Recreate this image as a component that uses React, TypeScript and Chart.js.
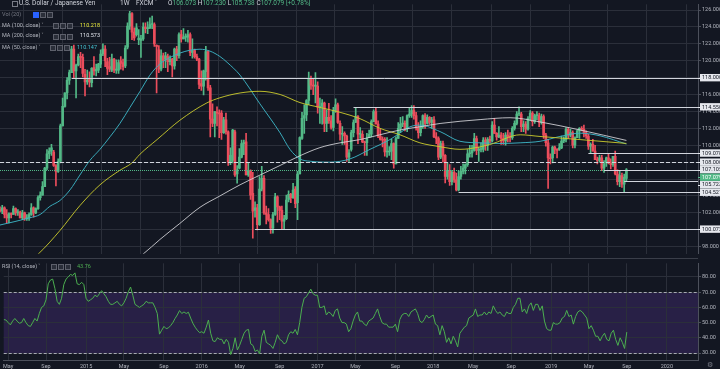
import React, { useEffect, useRef } from 'react';
import { Chart, registerables } from 'chart.js';
Chart.register(...registerables);

// week index 0 = week of 5 Jan 2015; first candle = week of 21 Apr 2014
const FIRST_WEEK = -37;

// [open, high, low, close]
const candles2014: number[][] = [
  [102.4, 102.7, 102.1, 102.2], [102.2, 102.9, 101.9, 102.6], [102.6, 102.7, 101.4, 101.8], [101.8, 102.4, 100.8, 101.4],
  [101.4, 102.0, 100.8, 101.9], [101.9, 102.0, 101.4, 101.8], [101.8, 102.8, 101.8, 102.5], [102.5, 102.6, 101.7, 102.0],
  [102.0, 102.4, 101.7, 102.1], [102.1, 102.2, 101.4, 101.4], [101.4, 102.3, 101.2, 102.0], [102.0, 102.1, 101.1, 101.3],
  [101.3, 101.8, 101.1, 101.4], [101.4, 102.0, 101.1, 101.8], [101.8, 103.1, 101.7, 102.6], [102.6, 102.7, 101.5, 102.0],
  [102.0, 102.6, 101.9, 102.5], [102.5, 104.0, 102.4, 103.8], [103.8, 104.5, 103.5, 104.1], [104.1, 105.7, 104.1, 105.1],
  [105.1, 107.4, 105.1, 107.3], [107.3, 109.5, 107.1, 109.0], [109.0, 109.7, 108.4, 109.3], [109.3, 110.1, 108.8, 109.7],
  [109.2, 109.4, 107.5, 107.6], [107.6, 107.7, 105.2, 106.9], [106.9, 108.4, 106.8, 108.1], [108.1, 112.5, 107.9, 112.3],
  [112.3, 115.6, 112.3, 114.6], [114.6, 116.2, 114.5, 116.2], [116.2, 118.0, 115.5, 117.7], [117.7, 118.9, 117.2, 118.6],
  [118.6, 121.7, 118.6, 121.4], [121.4, 121.85, 117.9, 118.8], [118.8, 119.6, 115.6, 119.5], [119.5, 120.8, 119.4, 120.5],
  [120.5, 121.0, 119.2, 120.4],
];
const candles2015: number[][] = [
  [120.4, 120.8, 118.1, 118.5], [118.4, 119.0, 115.85, 117.5], [117.5, 118.9, 117.2, 117.7], [117.9, 118.7, 116.9, 117.5],
  [117.4, 119.2, 116.9, 119.1], [119.2, 120.5, 118.3, 118.8], [118.8, 119.6, 118.2, 119.0], [118.9, 119.7, 118.6, 119.6],
  [119.6, 121.3, 119.2, 120.8], [120.8, 122.0, 120.6, 121.4], [121.4, 121.8, 119.3, 120.0], [119.9, 120.3, 118.35, 119.1],
  [119.3, 120.4, 118.7, 119.0], [118.9, 120.8, 118.7, 120.2], [120.2, 120.3, 118.6, 118.9], [118.9, 120.1, 118.5, 119.0],
  [118.9, 120.1, 118.5, 119.8], [120.0, 120.5, 119.0, 119.7], [119.8, 120.2, 118.9, 119.3], [119.4, 121.8, 119.2, 121.5],
  [121.6, 124.5, 121.4, 124.1], [124.1, 125.85, 123.7, 125.6], [125.6, 125.7, 122.5, 123.4], [123.4, 123.9, 122.4, 122.7],
  [123.1, 124.4, 122.9, 123.9], [122.5, 123.7, 121.9, 122.7], [122.4, 123.0, 120.4, 122.6], [122.6, 124.5, 122.4, 124.0],
  [124.0, 124.5, 123.3, 123.8], [123.8, 124.6, 123.2, 123.9], [123.9, 125.1, 123.8, 124.3], [124.3, 125.3, 123.8, 124.4],
  [124.3, 124.5, 121.7, 122.0], [121.8, 121.9, 116.2, 121.7], [121.3, 121.8, 118.6, 119.0], [119.0, 121.3, 118.8, 120.6],
  [120.6, 120.9, 119.2, 120.0], [120.2, 121.0, 119.2, 120.6], [120.5, 120.8, 118.7, 119.9], [119.9, 120.6, 119.5, 120.2],
  [120.2, 120.3, 118.1, 119.4], [119.4, 121.5, 119.0, 121.4], [121.4, 121.7, 120.0, 120.6], [120.6, 123.3, 120.3, 123.1],
  [123.1, 123.6, 122.2, 122.6], [122.6, 123.8, 122.6, 122.8], [122.8, 123.2, 122.3, 122.9], [122.8, 123.6, 122.2, 123.1],
  [123.1, 123.3, 120.6, 121.0], [121.0, 122.6, 120.3, 121.2], [121.2, 121.4, 120.3, 120.5], [120.5, 120.8, 120.0, 120.2],
];
const candles2016: number[][] = [
  [120.2, 120.3, 116.7, 117.2], [117.3, 118.8, 116.5, 117.0], [117.0, 118.9, 115.97, 118.8], [118.7, 121.7, 117.7, 121.1],
  [121.1, 121.2, 116.5, 116.8], [116.8, 117.1, 110.99, 113.1], [113.1, 114.9, 112.2, 112.6], [112.6, 114.0, 110.98, 114.0],
  [113.9, 114.55, 112.3, 113.8], [113.8, 114.2, 110.9, 113.7], [113.8, 114.1, 110.7, 111.5], [111.5, 113.3, 111.4, 113.0],
  [113.0, 113.8, 111.3, 111.6], [111.6, 111.7, 107.6, 108.0], [108.0, 109.7, 107.7, 108.8], [108.2, 111.9, 107.9, 111.8],
  [111.6, 111.8, 106.3, 106.5], [106.6, 107.6, 105.5, 107.1], [107.3, 109.6, 107.2, 108.6], [108.6, 110.6, 108.5, 110.2],
  [110.2, 110.6, 108.9, 110.3], [110.4, 111.4, 106.5, 106.5], [106.5, 107.9, 106.3, 107.0], [107.0, 107.1, 103.6, 104.1],
  [104.3, 106.8, 99.0, 102.2], [102.3, 103.3, 101.5, 102.6], [102.6, 103.0, 99.98, 100.6], [100.6, 106.3, 100.5, 104.8],
  [104.8, 107.5, 104.6, 106.1], [106.1, 106.4, 101.8, 102.0], [102.0, 102.8, 100.7, 101.8], [101.8, 102.5, 101.0, 101.2],
  [101.2, 101.3, 99.55, 100.2], [100.2, 102.05, 99.6, 101.8], [101.8, 104.3, 101.7, 103.9], [103.9, 104.0, 100.9, 102.7],
  [102.7, 102.8, 101.2, 102.3], [102.3, 102.8, 100.1, 101.0], [101.0, 101.7, 100.1, 101.3], [101.3, 104.1, 101.2, 103.5],
  [103.6, 104.6, 103.3, 104.2], [104.2, 104.3, 103.2, 103.8], [103.8, 105.5, 103.7, 104.7], [104.8, 105.1, 102.6, 103.1],
  [103.2, 106.9, 101.2, 106.6], [106.6, 111.0, 106.6, 110.9], [110.8, 113.9, 110.7, 113.2], [113.2, 114.8, 111.4, 113.5],
  [113.6, 115.4, 112.9, 115.3], [115.3, 118.66, 114.8, 117.9], [117.9, 118.2, 116.6, 117.1], [117.1, 117.8, 116.0, 117.0],
];
const candles2017: number[][] = [
  [117.0, 118.6, 115.0, 117.0], [117.0, 117.5, 113.8, 114.5], [114.5, 115.6, 112.6, 114.6], [114.6, 115.4, 112.5, 115.0],
  [115.0, 115.1, 111.6, 112.6], [112.6, 114.2, 111.6, 113.3], [113.3, 114.95, 112.6, 112.9], [112.9, 113.5, 111.9, 112.1],
  [112.1, 114.5, 111.7, 114.1], [114.1, 115.5, 113.9, 114.8], [114.8, 115.0, 112.6, 112.7], [112.6, 112.9, 110.6, 111.3],
  [111.3, 112.2, 110.1, 111.4], [111.4, 111.6, 110.1, 111.1], [111.1, 111.2, 108.1, 108.6], [108.6, 109.5, 108.1, 109.1],
  [109.5, 111.8, 109.3, 111.5], [111.5, 113.0, 111.0, 112.7], [112.7, 114.4, 112.7, 113.4], [113.4, 113.5, 110.2, 111.3],
  [111.3, 112.1, 110.8, 111.4], [111.3, 111.7, 110.3, 110.4], [110.4, 110.5, 108.8, 110.3], [110.3, 111.4, 108.8, 110.8],
  [110.9, 111.8, 110.9, 111.3], [111.3, 113.0, 111.0, 112.8], [112.8, 114.2, 112.8, 114.0], [114.0, 114.5, 112.8, 112.5],
  [112.5, 112.9, 110.9, 111.1], [111.1, 111.9, 110.6, 110.7], [110.7, 111.0, 109.8, 110.6], [110.7, 110.9, 108.7, 109.2],
  [109.2, 110.9, 108.6, 109.3], [109.2, 109.85, 108.8, 109.3], [109.3, 110.7, 108.3, 110.2], [110.2, 110.3, 107.3, 107.8],
  [107.8, 111.0, 107.8, 110.8], [110.8, 112.7, 110.8, 112.0], [112.0, 113.3, 111.5, 112.5], [112.5, 113.4, 112.2, 112.6],
  [112.6, 112.9, 111.7, 112.0], [112.0, 113.6, 111.6, 113.5], [113.5, 114.4, 113.3, 113.7], [113.7, 114.7, 113.3, 114.1],
  [114.1, 114.7, 113.1, 113.5], [113.5, 113.9, 111.8, 112.1], [112.1, 112.7, 110.85, 111.5], [111.5, 112.9, 111.1, 112.2],
  [112.2, 113.6, 112.0, 113.5], [113.5, 113.75, 112.0, 112.6], [112.6, 113.6, 112.5, 113.3], [113.3, 113.4, 112.5, 112.7],
];
const candles2018: number[][] = [
  [112.7, 113.3, 112.0, 113.0], [113.0, 113.4, 110.9, 111.0], [111.0, 111.5, 110.2, 110.8], [110.8, 111.0, 108.3, 108.6],
  [108.6, 110.5, 108.4, 110.2], [110.2, 110.5, 108.0, 108.8], [108.8, 108.9, 105.55, 106.3], [106.3, 107.9, 106.0, 106.9],
  [106.9, 107.7, 105.25, 105.7], [105.7, 107.0, 105.3, 106.8], [106.8, 107.3, 105.6, 105.9], [105.9, 106.7, 104.6, 104.7],
  [104.7, 107.0, 104.6, 106.3], [106.3, 107.5, 106.0, 106.9], [106.9, 107.8, 106.6, 107.3], [107.3, 107.8, 106.6, 107.7],
  [107.7, 109.5, 107.5, 109.0], [109.0, 110.0, 108.6, 109.1], [109.1, 110.0, 108.6, 109.4], [109.4, 111.4, 109.3, 110.8],
  [110.8, 111.1, 108.9, 109.4], [109.4, 109.8, 108.1, 109.5], [109.5, 110.3, 109.2, 109.6], [109.5, 110.9, 109.2, 110.6],
  [110.6, 110.9, 109.4, 110.0], [110.0, 110.9, 109.4, 110.7], [110.7, 111.1, 110.3, 110.5], [110.5, 112.8, 110.4, 112.4],
  [112.4, 113.2, 111.4, 111.4], [111.4, 111.5, 110.6, 111.0], [111.0, 112.2, 110.9, 111.2], [111.2, 111.5, 110.1, 110.8],
  [110.8, 111.4, 110.1, 110.5], [110.5, 111.5, 110.0, 111.2], [111.2, 111.8, 110.4, 111.0], [111.0, 111.5, 110.4, 110.9],
  [110.9, 112.2, 110.7, 112.0], [112.0, 112.9, 111.8, 112.6], [112.6, 114.0, 112.4, 113.7], [113.7, 114.55, 113.5, 113.8],
  [113.7, 113.9, 111.6, 112.2], [112.2, 112.9, 111.6, 112.5], [112.5, 112.8, 111.4, 111.9], [111.9, 113.4, 111.8, 113.2],
  [113.2, 114.1, 112.9, 113.8], [113.8, 114.0, 112.3, 112.8], [112.8, 113.7, 112.6, 113.5], [113.5, 114.0, 113.0, 113.6],
  [113.5, 113.8, 112.2, 112.7], [112.7, 113.7, 112.5, 113.4], [113.4, 113.6, 110.8, 111.2], [111.2, 111.4, 109.9, 110.3],
];
const candles2019: number[][] = [
  [110.3, 110.7, 104.9, 108.5], [108.5, 109.0, 107.8, 108.4], [108.5, 109.9, 107.9, 109.8], [109.8, 109.9, 109.0, 109.5],
  [109.5, 109.6, 108.5, 109.4], [109.5, 110.2, 109.4, 109.7], [109.7, 111.1, 109.6, 110.5], [110.5, 111.0, 110.3, 110.7],
  [110.7, 112.1, 110.4, 111.9], [111.9, 112.1, 110.8, 111.2], [111.2, 111.9, 111.0, 111.5], [111.5, 111.7, 109.7, 110.0],
  [110.0, 111.0, 109.7, 110.9], [110.9, 111.8, 110.9, 111.7], [111.7, 112.1, 110.8, 112.0], [112.0, 112.2, 111.7, 111.9],
  [111.9, 112.4, 111.0, 111.5], [111.5, 111.7, 110.8, 111.1], [111.1, 111.3, 109.5, 109.9], [109.9, 110.3, 109.0, 110.1],
  [110.1, 110.7, 109.3, 109.3], [109.3, 110.0, 108.3, 108.3], [108.3, 108.6, 107.8, 108.2], [108.2, 108.8, 108.0, 108.5],
  [108.5, 108.8, 107.0, 107.3], [107.3, 108.2, 106.8, 107.8], [107.9, 108.6, 107.5, 108.5], [108.5, 109.0, 107.8, 107.9],
  [107.9, 108.4, 107.2, 107.7], [107.7, 108.7, 107.5, 108.7], [108.7, 109.3, 106.5, 106.6], [106.6, 107.1, 105.3, 105.7],
  [105.7, 106.98, 105.1, 106.4], [106.4, 106.7, 105.0, 105.4], [105.4, 106.6, 104.45, 106.2], [106.073, 107.23, 105.738, 107.079],
];

const rsi2014 = [52, 51.7, 50, 48.5, 51, 52.7, 51, 49.6, 50, 52.7, 50, 48, 47.5, 50, 52.7, 51, 56, 60, 61, 65, 75.5, 78, 78.6, 72.4, 64, 62, 66, 75, 78.6, 80, 81.7, 81, 82.7, 75.5, 75, 76.5, 75];
const rsi2015 = [66, 64, 65, 66, 68, 67, 69, 71, 69, 67, 64, 62, 62, 63, 64, 62, 61, 63, 66, 70.3, 73.4, 68, 62, 61, 60, 61, 62, 64, 63, 63, 63, 60, 56, 42.4, 45, 47.5, 46, 46.5, 48, 50, 52.7, 55, 57.9, 56, 57, 56, 56.8, 53, 49.6, 47, 45, 43.4];
const rsi2016 = [44, 43, 47, 51.7, 43, 38, 37.5, 40, 39, 39, 36, 39, 37, 29, 33, 40, 32, 35, 39, 43, 45, 45.5, 36, 35, 31, 32, 29.5, 41, 45, 37, 36, 35, 33, 37, 42, 39, 38, 36, 37, 42, 44, 43, 45.5, 42, 50, 60, 66, 67, 69.5, 72, 69, 68];
const rsi2017 = [68, 60, 60, 61, 55, 57, 56, 54, 58, 59, 53, 50, 50, 49, 44, 46, 51, 55, 57, 51, 51, 49, 48, 51, 52, 53, 56, 59, 54, 50, 49, 49, 47, 47, 47, 49, 44, 52, 55, 56, 56, 54, 57, 58, 59, 56, 51, 50, 52, 55, 53, 54];
const rsi2018 = [55, 49, 48, 42, 48, 44, 37, 40, 36, 41, 38, 34, 43, 45, 47, 48, 53, 54, 55, 59, 54, 55, 55, 57, 55, 57, 56, 61, 58, 56, 57, 55, 54, 57, 56, 56, 60, 62, 66, 66, 57, 59, 56, 61, 63, 58, 62, 62, 58, 61, 51, 46];
const rsi2019 = [45, 45, 50, 49, 49, 50, 53, 54, 58, 54, 55, 49, 54, 57, 58, 57, 55, 53, 46, 48, 45, 41, 41, 38, 41, 43, 39, 38, 43, 45, 39, 35, 40, 37, 33, 43.76];

// moving averages: [week, value]
const ma50Points: number[][] = [
  [-37, 100.56], [-23.6, 101.42], [-19.1, 101.8], [-14.7, 102.77], [-10.2, 103.46], [-5.7, 104.72], [-1.3, 106.47],
  [3.2, 108.21], [7.7, 109.52], [12.2, 111.01], [16.6, 112.58], [21.1, 114.48], [25.6, 116.39], [30, 118.3],
  [34.5, 119.63], [39, 120.39], [43.4, 120.91], [47.9, 121.25], [52.4, 121.37], [56.9, 121.14], [61.3, 120.51],
  [64.5, 119.82], [70.3, 118.3], [79.2, 114.9], [88.2, 111.47], [92.6, 109.52], [97.1, 108.38], [101.6, 108.11],
  [110.5, 108.0], [119.4, 108.38], [128.4, 109.52], [137.3, 110.67], [146.3, 112.19], [150.7, 112.38],
  [159.7, 111.62], [168.6, 110.47], [177.6, 110.29], [186.5, 110.21], [195.5, 110.29], [204.4, 110.47],
  [213.3, 111.04], [222.3, 111.43], [231.2, 111.12], [243, 110.147],
];
const ma100Points: number[][] = [
  [-37, 94.5], [-23.6, 96.4], [-19.9, 97.13], [-10.2, 99.91], [-1.3, 102.85], [7.7, 105.32], [16.6, 107.04],
  [21.9, 107.89], [25.6, 108.95], [33.2, 110.67], [43.4, 112.96], [55.5, 115.02], [61.3, 115.62], [70.3, 116.19],
  [79.2, 116.39], [88.2, 116.01], [97.1, 115.05], [106, 114.48], [115, 113.9], [123.9, 113.15], [132.8, 112.01],
  [141.8, 111.24], [150.7, 110.29], [159.7, 109.83], [168.6, 109.52], [173.1, 109.6], [182, 110.09],
  [195.5, 111.24], [204.4, 111.04], [222.3, 110.67], [243, 110.218],
];
const ma200Points: number[][] = [
  [20, 95.8], [27, 97.13], [34.5, 98.85], [43.4, 100.75], [52.4, 102.66], [61.3, 104.0], [70.3, 105.32],
  [79.2, 106.47], [88.2, 107.61], [97.1, 108.76], [106, 109.72], [115, 110.29], [123.9, 110.67], [132.8, 111.24],
  [141.8, 111.81], [150.7, 112.19], [159.7, 112.58], [177.6, 113.04], [191, 113.26], [204.4, 112.76],
  [222.3, 111.81], [243, 110.573],
];

const xTickWeeks = [-35, -18, 0, 17, 35, 52, 69, 87, 104, 121, 139, 156, 174, 191, 209, 226, 243, 261];
const xTickLabels = ['May', 'Sep', '2015', 'May', 'Sep', '2016', 'May', 'Sep', '2017', 'May', 'Sep', '2018', 'May', 'Sep', '2019', 'May', 'Sep', '2020'];
const priceTicks = [98, 100, 102, 104, 106, 108, 110, 112, 114, 116, 118, 120, 122, 124, 126];
const rsiTicks = [30, 40, 50, 60, 70, 80];

const levelPrices = [118.0, 114.55, 109.078, 107.105, 105.723, 104.521, 100.072];
const levelStartWeeks = [-5, 121, 226, 233, 242, 168, 77];
const dashedLevel = 108.0;
const lastPrice = 107.079;
const rsiUpper = 70;
const rsiLower = 30;

const X_MIN = -37.0;
const X_MAX = 275.0;
const P_MIN = 97.164;
const P_MAX = 126.687;
const R_MIN = 25.4;
const R_MAX = 89.0;

const FONT = "Roboto, 'Noto Sans', sans-serif";
const BG = '#131722';
const GRID = '#2b2f3a';
const AXIS = '#4c505b';
const TXT = '#b2b5be';
const UP = '#53b987';
const DOWN = '#eb4d5c';

const candles = [...candles2014, ...candles2015, ...candles2016, ...candles2017, ...candles2018, ...candles2019];
const rsi = [...rsi2014, ...rsi2015, ...rsi2016, ...rsi2017, ...rsi2018, ...rsi2019];

const xScaleBase = (showLabels: boolean) => ({
  type: 'linear' as const,
  min: X_MIN,
  max: X_MAX,
  offset: false,
  afterBuildTicks: (scale: any) => {
    scale.ticks = xTickWeeks.map((v) => ({ value: v }));
  },
  afterFit: (scale: any) => {
    scale.height = showLabels ? 9 : 0;
  },
  grid: { color: GRID, drawTicks: false, tickLength: 0 },
  border: { display: showLabels, color: AXIS },
  ticks: {
    display: showLabels,
    autoSkip: false,
    maxRotation: 0,
    padding: 3,
    color: TXT,
    font: { size: 5.5, family: FONT },
    callback: (_v: any, i: number) => xTickLabels[i],
  },
});

const levelsPlugin = {
  id: 'levels',
  afterDatasetsDraw(chart: any) {
    const { ctx, chartArea: a, scales } = chart;
    const x = scales.x;
    const y = scales.y;
    ctx.save();
    ctx.beginPath();
    ctx.rect(a.left, a.top, a.right - a.left, a.bottom - a.top);
    ctx.clip();
    // current price dotted line
    ctx.strokeStyle = UP;
    ctx.lineWidth = 1;
    ctx.setLineDash([1, 1]);
    let py = Math.round(y.getPixelForValue(lastPrice)) + 0.5;
    ctx.beginPath();
    ctx.moveTo(a.left, py);
    ctx.lineTo(a.right, py);
    ctx.stroke();
    // dashed level
    ctx.strokeStyle = '#d1d4dc';
    ctx.setLineDash([4, 2]);
    py = Math.round(y.getPixelForValue(dashedLevel)) + 0.5;
    ctx.beginPath();
    ctx.moveTo(a.left, py);
    ctx.lineTo(a.right, py);
    ctx.stroke();
    // solid levels
    ctx.setLineDash([]);
    levelPrices.forEach((p, k) => {
      const yy = Math.round(y.getPixelForValue(p)) + 0.5;
      const xx = x.getPixelForValue(levelStartWeeks[k]);
      ctx.beginPath();
      ctx.moveTo(xx, yy);
      ctx.lineTo(a.right, yy);
      ctx.stroke();
    });
    ctx.restore();
  },
  afterDraw(chart: any) {
    const { ctx, chartArea: a, scales } = chart;
    const y = scales.y;
    const items = [
      ...levelPrices.map((p) => ({ p, green: false })),
      { p: dashedLevel, green: false },
      { p: lastPrice, green: true },
    ].sort((m, n) => n.p - m.p);
    let prev = -100;
    ctx.save();
    ctx.font = `5.5px ${FONT}`;
    ctx.textBaseline = 'middle';
    items.forEach((it) => {
      let cy = y.getPixelForValue(it.p);
      if (cy < prev + 7.5) cy = prev + 7.5;
      prev = cy;
      ctx.fillStyle = it.green ? UP : '#e6e8ee';
      ctx.fillRect(a.right + 2, cy - 3.7, 30, 7.4);
      ctx.strokeStyle = it.green ? UP : '#e6e8ee';
      ctx.beginPath();
      ctx.moveTo(a.right, Math.round(cy) + 0.5);
      ctx.lineTo(a.right + 2, Math.round(cy) + 0.5);
      ctx.stroke();
      ctx.fillStyle = it.green ? '#ffffff' : '#131722';
      ctx.fillText(it.p.toFixed(3), a.right + 4, cy + 0.3);
    });
    ctx.restore();
  },
};

const rsiBandPlugin = {
  id: 'rsiBand',
  beforeDraw(chart: any) {
    const { ctx, chartArea: a, scales } = chart;
    const y = scales.y;
    const top = y.getPixelForValue(rsiUpper);
    const bot = y.getPixelForValue(rsiLower);
    ctx.save();
    ctx.fillStyle = 'rgba(118, 70, 200, 0.22)';
    ctx.fillRect(a.left, top, a.right - a.left, bot - top);
    ctx.restore();
  },
  beforeDatasetsDraw(chart: any) {
    const { ctx, chartArea: a, scales } = chart;
    const y = scales.y;
    ctx.save();
    ctx.strokeStyle = 'rgba(209, 212, 220, 0.75)';
    ctx.lineWidth = 1;
    ctx.setLineDash([3, 2]);
    [rsiUpper, rsiLower].forEach((v) => {
      const py = Math.round(y.getPixelForValue(v)) + 0.5;
      ctx.beginPath();
      ctx.moveTo(a.left, py);
      ctx.lineTo(a.right, py);
      ctx.stroke();
    });
    ctx.restore();
  },
};

const Icon = ({ left, top, blue }: { left: number; top: number; blue?: boolean }) => (
  <div
    style={{
      position: 'absolute',
      left,
      top,
      width: 4,
      height: 4,
      border: `1px solid ${blue ? '#2962ff' : '#5d606b'}`,
      background: blue ? '#2962ff' : '#2a2e39',
    }}
  />
);

const Label = ({ left, top, size, color, children }: any) => (
  <div
    style={{
      position: 'absolute',
      left,
      top,
      fontSize: size,
      lineHeight: 1,
      color,
      whiteSpace: 'nowrap',
      fontFamily: FONT,
    }}
  >
    {children}
  </div>
);

export default function App() {
  const mainRef = useRef<HTMLCanvasElement>(null);
  const rsiRef = useRef<HTMLCanvasElement>(null);

  useEffect(() => {
    document.body.style.margin = '0';
    document.body.style.background = BG;
    Chart.defaults.font.family = FONT;

    const up = candles.map((c) => c[3] >= c[0]);
    const colors = up.map((u) => (u ? UP : DOWN));

    const main = new Chart(mainRef.current!, {
      type: 'bar',
      data: {
        datasets: [
          {
            type: 'line',
            data: ma200Points.map((p) => ({ x: p[0], y: p[1] })),
            borderColor: 'rgba(215, 215, 220, 0.85)',
            borderWidth: 1,
            pointRadius: 0,
            cubicInterpolationMode: 'monotone',
            order: 0,
          } as any,
          {
            type: 'line',
            data: ma100Points.map((p) => ({ x: p[0], y: p[1] })),
            borderColor: 'rgba(205, 205, 45, 0.9)',
            borderWidth: 1,
            pointRadius: 0,
            cubicInterpolationMode: 'monotone',
            order: 0,
          } as any,
          {
            type: 'line',
            data: ma50Points.map((p) => ({ x: p[0], y: p[1] })),
            borderColor: 'rgba(60, 178, 195, 0.95)',
            borderWidth: 1,
            pointRadius: 0,
            cubicInterpolationMode: 'monotone',
            order: 0,
          } as any,
          {
            type: 'bar',
            data: candles.map((c, k) => ({ x: FIRST_WEEK + k, y: [Math.min(c[0], c[3]), Math.max(c[0], c[3])] })),
            backgroundColor: colors,
            barThickness: 2,
            minBarLength: 1,
            grouped: false,
            order: 1,
          } as any,
          {
            type: 'bar',
            data: candles.map((c, k) => ({ x: FIRST_WEEK + k, y: [c[2], c[1]] })),
            backgroundColor: colors,
            barThickness: 1,
            grouped: false,
            order: 2,
          } as any,
        ],
      },
      options: {
        responsive: false,
        animation: false,
        layout: { padding: 0 },
        plugins: { legend: { display: false }, tooltip: { enabled: false } },
        scales: {
          x: xScaleBase(false) as any,
          y: {
            type: 'linear',
            position: 'right',
            min: P_MIN,
            max: P_MAX,
            afterBuildTicks: (scale: any) => {
              scale.ticks = priceTicks.map((v) => ({ value: v }));
            },
            afterFit: (scale: any) => {
              scale.width = 22;
            },
            grid: { color: GRID, tickColor: AXIS, tickLength: 3 },
            border: { display: true, color: AXIS },
            ticks: {
              padding: 1,
              color: TXT,
              font: { size: 5.5, family: FONT },
              callback: (v: any) => Number(v).toFixed(3),
            },
          },
        },
      },
      plugins: [levelsPlugin],
    });

    const rsiChart = new Chart(rsiRef.current!, {
      type: 'line',
      data: {
        datasets: [
          {
            data: rsi.map((v, k) => ({ x: FIRST_WEEK + k, y: v })),
            borderColor: '#4caf50',
            borderWidth: 1,
            pointRadius: 0,
            tension: 0,
          },
        ],
      },
      options: {
        responsive: false,
        animation: false,
        layout: { padding: 0 },
        plugins: { legend: { display: false }, tooltip: { enabled: false } },
        scales: {
          x: xScaleBase(true) as any,
          y: {
            type: 'linear',
            position: 'right',
            min: R_MIN,
            max: R_MAX,
            afterBuildTicks: (scale: any) => {
              scale.ticks = rsiTicks.map((v) => ({ value: v }));
            },
            afterFit: (scale: any) => {
              scale.width = 22;
            },
            grid: { color: GRID, tickColor: AXIS, tickLength: 3 },
            border: { display: true, color: AXIS },
            ticks: {
              padding: 1,
              color: TXT,
              font: { size: 5.5, family: FONT },
              callback: (v: any) => Number(v).toFixed(2),
            },
          },
        },
      },
      plugins: [rsiBandPlugin],
    });

    return () => {
      main.destroy();
      rsiChart.destroy();
    };
  }, []);

  return (
    <div style={{ position: 'relative', width: 720, height: 369, background: BG, overflow: 'hidden', fontFamily: FONT }}>
      <canvas ref={mainRef} width={720} height={258} style={{ position: 'absolute', left: 0, top: 0, display: 'block' }} />
      <div style={{ position: 'absolute', left: 0, top: 258, width: 698, height: 1, background: '#3a3e49' }} />
      <canvas ref={rsiRef} width={720} height={110} style={{ position: 'absolute', left: 0, top: 259, display: 'block' }} />

      <div style={{ position: 'absolute', left: 12, top: 0.5, width: 4, height: 4, border: '1px solid #787b86' }} />
      <Label left={19} top={0} size={6.5} color="#d1d4dc">U.S. Dollar / Japanese Yen</Label>
      <Label left={120} top={0} size={6.5} color="#d1d4dc">1W</Label>
      <Label left={136} top={0} size={6.5} color="#d1d4dc">FXCM ˅</Label>
      <Label left={168} top={0} size={6.5} color="#d1d4dc">
        O<span style={{ color: UP }}>106.073</span> H<span style={{ color: UP }}>107.230</span> L<span style={{ color: UP }}>105.738</span> C<span style={{ color: UP }}>107.079</span> <span style={{ color: UP }}>[+0.78%]</span>
      </Label>

      <Label left={2} top={12.3} size={5.5} color="#787b86">Vol (20)</Label>
      <Icon left={33} top={12.3} blue />
      <Icon left={40} top={12.3} />
      <Icon left={47} top={12.3} />

      <Label left={2} top={22.5} size={5.5} color="#b2b5be">MA (100, close) ˅</Label>
      <Icon left={53} top={22.8} />
      <Icon left={60} top={22.8} />
      <Icon left={67} top={22.8} />
      <Label left={80} top={22.5} size={5.5} color="#e6e63a">110.218</Label>

      <Label left={2} top={33.3} size={5.5} color="#b2b5be">MA (200, close) ˅</Label>
      <Icon left={53} top={33.5} />
      <Icon left={60} top={33.5} />
      <Icon left={67} top={33.5} />
      <Label left={80} top={33.3} size={5.5} color="#e0e3eb">110.573</Label>

      <Label left={2} top={44.5} size={5.5} color="#b2b5be">MA (50, close) ˅</Label>
      <Icon left={50} top={44.8} />
      <Icon left={57} top={44.8} />
      <Icon left={64} top={44.8} />
      <Label left={77} top={44.5} size={5.5} color="#45c3d3">110.147</Label>

      <Label left={2} top={264} size={5.5} color="#b2b5be">RSI (14, close) ˅</Label>
      <Icon left={51} top={264.3} />
      <Icon left={58} top={264.3} />
      <Icon left={65} top={264.3} />
      <Label left={77} top={264} size={5.5} color="#4caf50">43.76</Label>

      <Label left={707} top={362} size={7} color="#787b86">⚙</Label>
    </div>
  );
}
